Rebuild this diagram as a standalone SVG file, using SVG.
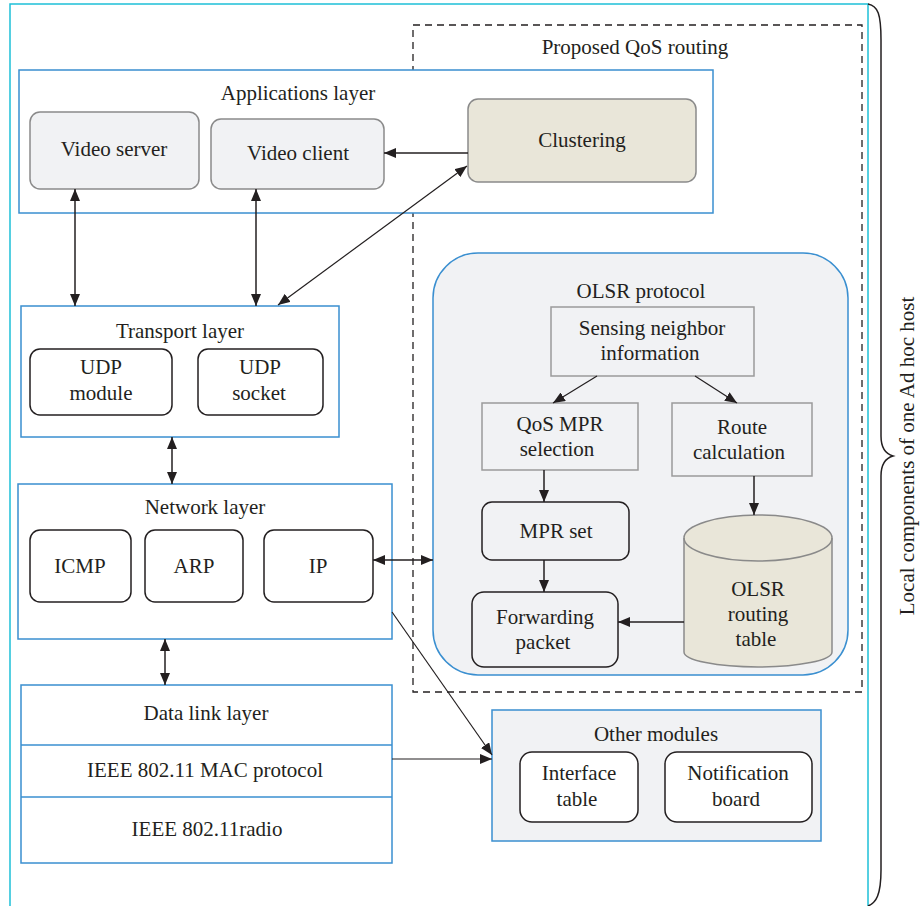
<svg xmlns="http://www.w3.org/2000/svg" width="921" height="906" viewBox="0 0 921 906">
  <style>
    text { font-family: 'Liberation Serif', 'DejaVu Serif', serif; font-size: 21px; fill: #231f20; text-anchor: middle; }
    .layer { fill: #ffffff; stroke: #3a8fd0; stroke-width: 1.5; }
    .grey { fill: #f1f2f4; stroke: #8a8a8a; stroke-width: 1.5; }
    .tan { fill: #e9e6d9; stroke: #8a8a8a; stroke-width: 1.5; }
    .mod { fill: #ffffff; stroke: #231f20; stroke-width: 1.5; }
    .flow { fill: #f1f2f4; stroke: #9a9a9a; stroke-width: 1.5; }
    .flowr { fill: #f1f2f4; stroke: #231f20; stroke-width: 1.5; }
    .conn { stroke: #231f20; stroke-width: 1.5; fill: none; }
    .thin { stroke: #231f20; stroke-width: 1.2; fill: none; }
  </style>
  <defs>
    <marker id="ah" viewBox="0 0 12 10" refX="12" refY="5" markerWidth="12" markerHeight="10" markerUnits="userSpaceOnUse" orient="auto-start-reverse">
      <path d="M0,0 L12,5 L0,10 Z" fill="#231f20"/>
    </marker>
  </defs>

  <!-- host boundary -->
  <rect x="10" y="4" width="858" height="920" fill="none" stroke="#1ec0d8" stroke-width="1.5"/>
  <path d="M868,4 C878,6 881,14 881,40 L881,436 C881,448 886,454 893,456 C886,458 881,464 881,476 L881,870 C881,895 876,903 868,906" fill="none" stroke="#231f20" stroke-width="1.5"/>
  <text transform="translate(914,456) rotate(-90)">Local components of one Ad hoc host</text>

  <!-- proposed QoS routing region -->
  <g id="qos-routing">
    <rect x="413" y="25" width="449" height="667" fill="none" stroke="#231f20" stroke-width="1.3" stroke-dasharray="7,5"/>
    <text x="635" y="54">Proposed QoS routing</text>
  </g>

  <g id="applications-layer">
    <rect class="layer" x="19" y="70" width="694" height="143"/>
    <text x="298" y="100">Applications layer</text>
  </g>
  <g id="video-server">
    <rect class="grey" x="30" y="112" width="169" height="77" rx="10"/>
    <text x="114" y="156">Video server</text>
  </g>
  <g id="video-client">
    <rect class="grey" x="211" y="119" width="173" height="70" rx="10"/>
    <text x="298" y="160">Video client</text>
  </g>
  <g id="clustering">
    <rect class="tan" x="468" y="99" width="228" height="83" rx="10"/>
    <text x="582" y="147">Clustering</text>
  </g>

  <g id="transport-layer">
    <rect class="layer" x="21" y="306" width="318" height="131"/>
    <text x="180" y="338">Transport layer</text>
  </g>
  <g id="udp-module">
    <rect class="mod" x="30" y="349" width="142" height="66" rx="10"/>
    <text x="101" y="374">UDP</text>
    <text x="101" y="400">module</text>
  </g>
  <g id="udp-socket">
    <rect class="mod" x="198" y="349" width="125" height="66" rx="10"/>
    <text x="260" y="374">UDP</text>
    <text x="259" y="400">socket</text>
  </g>

  <g id="network-layer">
    <rect class="layer" x="18" y="484" width="374" height="155"/>
    <text x="205" y="514">Network layer</text>
  </g>
  <g id="icmp">
    <rect class="mod" x="30" y="530" width="101" height="72" rx="10"/>
    <text x="80" y="573">ICMP</text>
  </g>
  <g id="arp">
    <rect class="mod" x="145" y="530" width="98" height="72" rx="10"/>
    <text x="194" y="573">ARP</text>
  </g>
  <g id="ip">
    <rect class="mod" x="264" y="530" width="109" height="72" rx="10"/>
    <text x="318" y="573">IP</text>
  </g>

  <g id="data-link-layer">
    <rect class="layer" x="21" y="685" width="371" height="178"/>
    <line x1="21" y1="745" x2="392" y2="745" stroke="#3a8fd0" stroke-width="1.5"/>
    <line x1="21" y1="797" x2="392" y2="797" stroke="#3a8fd0" stroke-width="1.5"/>
    <text x="206" y="720">Data link layer</text>
    <text x="205" y="777">IEEE 802.11 MAC protocol</text>
    <text x="207" y="836">IEEE 802.11radio</text>
  </g>

  <g id="olsr-protocol">
    <rect x="433" y="253" width="415" height="422" rx="45" fill="#f1f2f4" stroke="#3a8fd0" stroke-width="1.5"/>
    <text x="641" y="298">OLSR protocol</text>
  </g>
  <g id="sensing-neighbor">
    <rect class="flow" x="551" y="307" width="203" height="69"/>
    <text x="652" y="335">Sensing neighbor</text>
    <text x="650" y="360">information</text>
  </g>
  <g id="qos-mpr-selection">
    <rect class="flow" x="482" y="403" width="156" height="67"/>
    <text x="560" y="431">QoS MPR</text>
    <text x="557" y="456">selection</text>
  </g>
  <g id="route-calculation">
    <rect class="flow" x="672" y="403" width="140" height="73"/>
    <text x="742" y="434">Route</text>
    <text x="739" y="459">calculation</text>
  </g>
  <g id="mpr-set">
    <rect class="flowr" x="482" y="502" width="147" height="58" rx="10"/>
    <text x="556" y="538">MPR set</text>
  </g>
  <g id="forwarding-packet">
    <rect class="flowr" x="472" y="592" width="146" height="75" rx="12"/>
    <text x="545" y="624">Forwarding</text>
    <text x="543" y="649">packet</text>
  </g>
  <g id="olsr-routing-table">
    <path class="tan" d="M684,538 A74,23 0 0 1 832,538 L832,652 A74,15 0 0 1 684,652 Z"/>
    <path d="M684,538 A74,23 0 0 0 832,538" fill="none" stroke="#8a8a8a" stroke-width="1.5"/>
    <text x="758" y="596">OLSR</text>
    <text x="758" y="621">routing</text>
    <text x="756" y="646">table</text>
  </g>

  <g id="other-modules">
    <rect x="492" y="710" width="329" height="131" fill="#f1f2f4" stroke="#3a8fd0" stroke-width="1.5"/>
    <text x="656" y="741">Other modules</text>
  </g>
  <g id="interface-table">
    <rect class="mod" x="520" y="752" width="118" height="70" rx="12"/>
    <text x="579" y="780">Interface</text>
    <text x="577" y="806">table</text>
  </g>
  <g id="notification-board">
    <rect class="mod" x="665" y="752" width="147" height="70" rx="12"/>
    <text x="738" y="780">Notification</text>
    <text x="736" y="806">board</text>
  </g>

  <!-- connectors -->
  <g id="connectors">
    <line class="conn" x1="468" y1="153" x2="384" y2="153" marker-end="url(#ah)"/>
    <line class="thin" x1="278" y1="305" x2="467" y2="166" marker-start="url(#ah)" marker-end="url(#ah)"/>
    <line class="conn" x1="75" y1="189" x2="75" y2="306" marker-start="url(#ah)" marker-end="url(#ah)"/>
    <line class="conn" x1="256" y1="189" x2="256" y2="306" marker-start="url(#ah)" marker-end="url(#ah)"/>
    <line class="conn" x1="172" y1="437" x2="172" y2="484" marker-start="url(#ah)" marker-end="url(#ah)"/>
    <line class="conn" x1="165" y1="639" x2="165" y2="685" marker-start="url(#ah)" marker-end="url(#ah)"/>
    <line class="conn" x1="373" y1="560" x2="433" y2="560" marker-start="url(#ah)" marker-end="url(#ah)"/>
    <line class="thin" x1="392" y1="612" x2="492" y2="755" marker-end="url(#ah)"/>
    <line class="thin" x1="392" y1="759" x2="492" y2="759" marker-end="url(#ah)"/>
    <line class="thin" x1="597" y1="376" x2="553" y2="403" marker-end="url(#ah)"/>
    <line class="thin" x1="695" y1="376" x2="737" y2="403" marker-end="url(#ah)"/>
    <line class="conn" x1="544" y1="470" x2="544" y2="502" marker-end="url(#ah)"/>
    <line class="conn" x1="544" y1="560" x2="544" y2="592" marker-end="url(#ah)"/>
    <line class="conn" x1="754" y1="476" x2="754" y2="515" marker-end="url(#ah)"/>
    <line class="conn" x1="684" y1="622" x2="618" y2="622" marker-end="url(#ah)"/>
  </g>
</svg>
